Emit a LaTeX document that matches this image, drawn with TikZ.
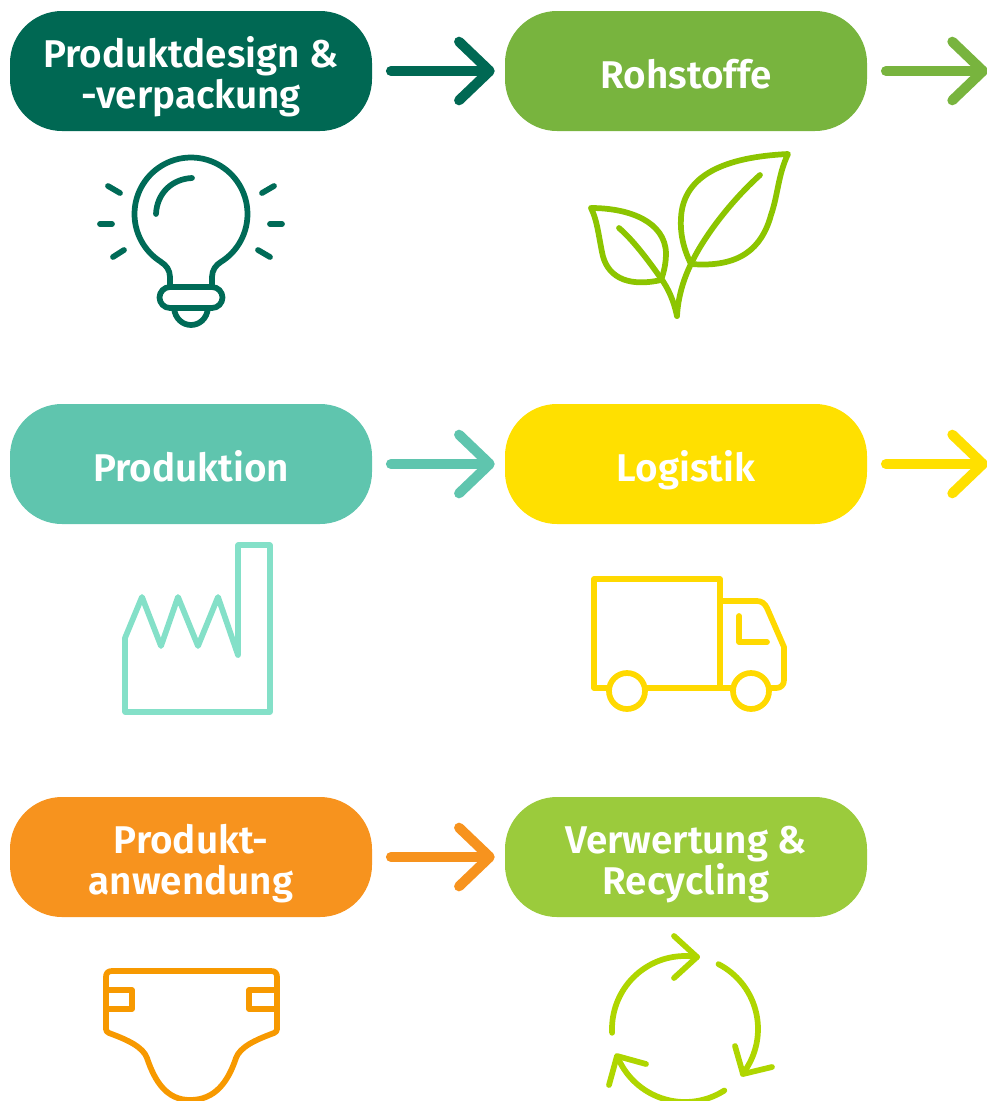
\documentclass[tikz,border=0pt]{standalone}
\usepackage{fontspec}
\setmainfont{Fira Sans}[BoldFont={Fira Sans SemiBold}]
\usetikzlibrary{arrows.meta}
\definecolor{cDark}{HTML}{006853}
\definecolor{cGreen}{HTML}{78B43E}
\definecolor{cTeal}{HTML}{5FC5AE}
\definecolor{cYellow}{HTML}{FFE000}
\definecolor{cOrange}{HTML}{F7931E}
\definecolor{cLime}{HTML}{9BCB3C}
\definecolor{iBulb}{HTML}{006B57}
\definecolor{iLeaf}{HTML}{8CC500}
\definecolor{iFact}{HTML}{84E0C8}
\definecolor{iTruck}{HTML}{FFD900}
\definecolor{iDiaper}{HTML}{F79900}
\definecolor{iCycle}{HTML}{AFD600}
\newcommand{\firstline}[1]{\rule{0pt}{25.5pt}\smash{#1}}
\newcommand{\lastline}[1]{\smash{#1}}
\tikzset{
  box/.style={draw=none,fill=#1,rounded corners=39pt,minimum width=271.5pt,minimum height=90pt,
    text=white,align=center,font=\fontsize{29}{30.4}\selectfont\bfseries,inner sep=0pt},
  flow/.style={draw=#1,line width=7.5pt,line cap=round,line join=round,shorten <=14pt,shorten >=7.5pt,
    -{Straight Barb[length=23pt,width=44pt,round]}},
  icon/.style={draw=#1,line width=4.3pt,line cap=round,line join=round,fill=none}
}
\begin{document}
\begin{tikzpicture}[x=0.75pt,y=-0.75pt]
\path[use as bounding box] (0,0) rectangle (987,1101);
\node[box=cDark] (a) at (191,71) {\firstline{Produktdesign \&}\\\lastline{-verpackung}};
\node[box=cGreen] (b) at (686,71) {\firstline{Rohstoffe}};
\node[box=cTeal] (c) at (191,464) {\firstline{Produktion}};
\node[box=cYellow] (d) at (686,464) {\firstline{Logistik}};
\node[box=cOrange] (e) at (191,857) {\firstline{Produkt-}\\\lastline{anwendung}};
\node[box=cLime] (f) at (686,857) {\firstline{Verwertung \&}\\\lastline{Recycling}};
\coordinate (bend) at (998,71);
\coordinate (dend) at (998,464);
\draw[flow=cDark] (a) -- (b);
\draw[flow=cGreen] (b) -- (bend);
\draw[flow=cTeal] (c) -- (d);
\draw[flow=cYellow] (d) -- (dend);
\draw[flow=cOrange] (e) -- (f);
% bulb
\draw[icon=iBulb] (170,287) -- (170,277) .. controls (170,270) and (166,265) .. (161,262)
  -- plot[domain=121.6:418.4,samples=80] ({191+56.5*cos(\x)},{214+56.5*sin(\x)})
  .. controls (216,265) and (212,270) .. (212,277) -- (212,287);
\draw[icon=iBulb] (170,287) -- (212,287) .. controls (218,287) and (222.5,292) .. (222.5,297.5) .. controls (222.5,303) and (218,308) .. (212,308)
  -- (170,308) .. controls (164,308) and (159.5,303) .. (159.5,297.5) .. controls (159.5,292) and (164,287) .. (170,287) -- cycle;
\draw[icon=iBulb] (174,308) .. controls (175,319) and (183,325) .. (191,325) .. controls (199,325) and (207,319) .. (208,308);
\draw[icon=iBulb] (156,214) .. controls (157,193) and (172,179) .. (192,178);
\draw[icon=iBulb] (108,186) -- (120,193);
\draw[icon=iBulb] (100,224) -- (112,224);
\draw[icon=iBulb] (113,257) -- (124,250);
\draw[icon=iBulb] (262,193) -- (274,186);
\draw[icon=iBulb] (270,224) -- (282,224);
\draw[icon=iBulb] (258,250) -- (270,257);
% leaves
\draw[icon=iLeaf] (691,264) .. controls (683,248) and (680,232) .. (681,218)
  .. controls (683,175) and (725,157) .. (788,154)
  .. controls (778,175) and (778,195) .. (771,215)
  .. controls (762,248) and (740,268) .. (691,264);
\draw[icon=iLeaf] (760,175) .. controls (730,202) and (703,238) .. (691,264)
  .. controls (683,280) and (678,298) .. (677,316);
\draw[icon=iLeaf] (591,208) .. controls (630,208) and (665,222) .. (666,253)
  .. controls (666,263) and (664,272) .. (661,280)
  .. controls (625,288) and (606,275) .. (602,252)
  .. controls (598,232) and (597,220) .. (591,208);
\draw[icon=iLeaf] (619,228) .. controls (633,240) and (648,260) .. (660,277)
  .. controls (669,289) and (674,302) .. (677,316);
% factory
\draw[icon=iFact] (125,638) -- (142,597) -- (161,646) -- (178,597) -- (198,646) -- (218,597) -- (238,655) -- (238,545) -- (270,545) -- (270,712) -- (125,712) -- cycle;
% truck
\draw[icon=iTruck] (609,688) -- (594,688) -- (594,579) -- (720,579) -- (720,688);
\draw[icon=iTruck] (645,688) -- (733,688);
\draw[icon=iTruck] (720,601) -- (757,601) .. controls (762,601) and (765,604) .. (767,608) -- (784,647) -- (784,680) .. controls (784,685) and (781,688) .. (776,688) -- (769,688);
\draw[icon=iTruck] (739,616) -- (739,642) -- (767,642);
\draw[icon=iTruck] (627,691) circle[radius=18];
\draw[icon=iTruck] (751,691) circle[radius=18];
% diaper
\draw[icon=iDiaper] (106,977) .. controls (106,973) and (108,971) .. (112,971) -- (271,971) .. controls (275,971) and (277,973) .. (277,977)
  -- (277,1029) .. controls (277,1031) and (276,1032) .. (274,1033)
  .. controls (255,1040) and (240,1047) .. (236,1058)
  .. controls (228,1082) and (215,1100) .. (190,1100)
  .. controls (167,1100) and (155,1082) .. (147,1058)
  .. controls (143,1047) and (128,1040) .. (109,1033)
  .. controls (107,1032) and (106,1031) .. (106,1029) -- cycle;
\draw[icon=iDiaper] (106,990) -- (132,990) -- (132,1009) -- (106,1009);
\draw[icon=iDiaper] (277,990) -- (249,990) -- (249,1009) -- (277,1009);
% recycling
\draw[icon=iCycle] plot[domain=177:279.5,samples=40] ({685+73*cos(\x)},{1029+73*sin(\x)});
\draw[icon=iCycle] (674,936) -- (697,957) -- (674,978);
\draw[icon=iCycle] plot[domain=-62.7:37.8,samples=40] ({685+73*cos(\x)},{1029+73*sin(\x)});
\draw[icon=iCycle] (735,1046) -- (743,1074) -- (772,1067);
\draw[icon=iCycle] plot[domain=57.4:157.3,samples=40] ({685+73*cos(\x)},{1029+73*sin(\x)});
\draw[icon=iCycle] (609,1085) -- (617,1056) -- (646,1064);
\end{tikzpicture}
\end{document}
